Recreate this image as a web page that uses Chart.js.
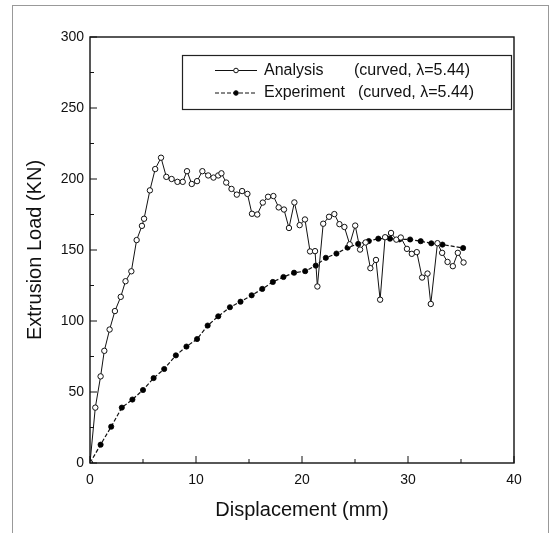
<!DOCTYPE html>
<html lang="en">
<head>
  <meta charset="UTF-8" />
  <title>Extrusion Load vs Displacement</title>
  <script src="https://cdn.jsdelivr.net/npm/chart.js"></script>
  <style>
    html, body { margin: 0; padding: 0; background: #fff; }
    #wrap { width: 555px; height: 533px; }
  </style>
</head>
<body>
  <div id="wrap"><canvas id="loadChart" width="555" height="533"></canvas></div>

  <script>
    // Analysis (open circles)
    const analysisX = [0, 0.5, 1.0, 1.35, 1.85, 2.35, 2.9, 3.35, 3.9, 4.4, 4.9, 5.1, 5.65, 6.15, 6.7,
      7.2, 7.7, 8.25, 8.75, 9.15, 9.6, 10.1, 10.6, 11.15, 11.65, 12.1, 12.4, 12.85, 13.35, 13.85,
      14.35, 14.85, 15.28, 15.78, 16.3, 16.8, 17.3, 17.8, 18.3, 18.77, 19.28, 19.78, 20.28, 20.76,
      21.23, 21.45, 22.0, 22.55, 23.05, 23.53, 24.0, 24.5, 25.02, 25.48, 26.0, 26.45, 26.98, 27.37,
      27.84, 28.4, 28.9, 29.32, 29.9, 30.36, 30.83, 31.33, 31.84, 32.15, 32.78, 33.22, 33.73, 34.23,
      34.7, 35.24];
    const analysisY = [0, 39, 61, 79, 94, 107, 117, 128, 135, 157, 167, 172, 192, 207, 215,
      201.5, 200, 198, 198, 205.5, 196.5, 198.5, 205.5, 202.5, 201, 202.5, 204, 197.5, 193, 189,
      191.5, 189.5, 175.5, 175, 183.4, 187.5, 188, 180, 178.5, 165.5, 183.5, 167.5, 171.5, 149,
      149.2, 124.3, 168.5, 173.4, 175.3, 168.2, 166.2, 154, 167.2, 150.3, 155.3, 137.2, 143, 115,
      159, 162, 157.3, 158.8, 150.8, 147.3, 148.5, 130.6, 133.4, 112, 154.8, 148, 141.6, 138.6,
      148, 141.2];

    // Experiment (filled circles)
    const experimentX = [0, 1.0, 2.0, 3.0, 4.0, 5.0, 6.0, 7.0, 8.1, 9.1, 10.1, 11.1, 12.1, 13.2,
      14.2, 15.25, 16.25, 17.25, 18.25, 19.25, 20.3, 21.3, 22.25, 23.25, 24.3, 25.3, 26.3, 27.2,
      28.3, 29.2, 30.2, 31.2, 32.2, 33.25, 35.2];
    const experimentY = [0, 12.9, 25.6, 39, 44.7, 51.4, 59.8, 66.2, 75.8, 82, 87.3, 96.8, 103.3, 109.7,
      113.6, 118.1, 122.6, 127.5, 131, 134, 135.1, 139, 144.5, 147.5, 151.7, 154.3, 156.3, 158,
      158, 157.5, 157.4, 156.2, 154.7, 153.8, 151.4];

    const legendNames = ['Analysis', 'Experiment'];
    const legendNotes = ['(curved, \u03bb=5.44)', '(curved, \u03bb=5.44)'];

    const FONT = "Arial, 'Liberation Sans', Helvetica, sans-serif";

    const toPoints = (xs, ys) => xs.map((x, i) => ({ x: x, y: ys[i] }));

    // box round the plot, inside tick marks, outer frame
    const framePlugin = {
      id: 'frame',
      afterDraw(chart) {
        const ctx = chart.ctx;
        const a = chart.chartArea;
        const xs = chart.scales.x, ys = chart.scales.y;
        ctx.save();
        ctx.strokeStyle = '#999';
        ctx.lineWidth = 1;
        ctx.strokeRect(12.5, 5.5, 536, 540);

        ctx.strokeStyle = '#111';
        ctx.lineWidth = 1.4;
        ctx.strokeRect(a.left, a.top, a.right - a.left, a.bottom - a.top);

        ctx.lineWidth = 1;
        ctx.beginPath();
        for (let v = 0; v <= 300; v += 25) {
          const py = ys.getPixelForValue(v);
          const len = v % 50 === 0 ? 7 : 4;
          ctx.moveTo(a.left, py);
          ctx.lineTo(a.left + len, py);
        }
        for (let v = 0; v <= 40; v += 5) {
          const px = xs.getPixelForValue(v);
          const len = v % 10 === 0 ? 7 : 4;
          ctx.moveTo(px, a.bottom);
          ctx.lineTo(px, a.bottom - len);
        }
        ctx.stroke();
        ctx.restore();
      }
    };

    // boxed legend in upper right
    const legendPlugin = {
      id: 'boxLegend',
      afterDraw(chart) {
        const ctx = chart.ctx;
        ctx.save();
        ctx.strokeStyle = '#222';
        ctx.lineWidth = 1.2;
        ctx.strokeRect(182.5, 55.5, 329, 54);

        const rows = [70.5, 93];
        const noteX = [354, 358];
        ctx.font = '16px ' + FONT;
        ctx.fillStyle = '#111';
        ctx.textBaseline = 'middle';
        rows.forEach((y, i) => {
          const ds = chart.data.datasets[i];
          ctx.strokeStyle = '#111';
          ctx.lineWidth = 1;
          ctx.setLineDash(ds.borderDash || []);
          ctx.beginPath();
          ctx.moveTo(215, y);
          ctx.lineTo(257, y);
          ctx.stroke();
          ctx.setLineDash([]);
          ctx.beginPath();
          ctx.arc(236, y, i === 0 ? 2.3 : 2.3, 0, Math.PI * 2);
          ctx.fillStyle = ds.pointBackgroundColor;
          ctx.fill();
          ctx.stroke();
          ctx.fillStyle = '#111';
          ctx.fillText(legendNames[i], 264, y);
          ctx.fillText(legendNotes[i], noteX[i], y);
        });
        ctx.restore();
      }
    };

    new Chart(document.getElementById('loadChart'), {
      type: 'scatter',
      data: {
        datasets: [
          {
            label: legendNames[0],
            data: toPoints(analysisX, analysisY),
            showLine: true,
            borderColor: '#111',
            borderWidth: 1,
            pointRadius: 2.7,
            pointBorderWidth: 1,
            pointBorderColor: '#111',
            pointBackgroundColor: '#fff'
          },
          {
            label: legendNames[1],
            data: toPoints(experimentX, experimentY),
            showLine: true,
            borderColor: '#111',
            borderWidth: 1.2,
            borderDash: [4, 2],
            pointRadius: 2.6,
            pointBorderWidth: 0.8,
            pointBorderColor: '#000',
            pointBackgroundColor: '#000'
          }
        ]
      },
      options: {
        responsive: false,
        animation: false,
        layout: { padding: { left: 0, right: 41, top: 37, bottom: 0 } },
        plugins: {
          legend: { display: false },
          tooltip: { enabled: false }
        },
        scales: {
          x: {
            type: 'linear',
            min: 0,
            max: 40,
            grid: { display: false, drawTicks: false },
            border: { display: false },
            ticks: { stepSize: 10, padding: 9, color: '#111', font: { size: 14, family: FONT } },
            title: {
              display: true,
              text: 'Displacement (mm)',
              color: '#111',
              font: { size: 20, family: FONT },
              padding: { top: 0, bottom: 11 }
            },
            afterFit(s) { s.height = 70; }
          },
          y: {
            min: 0,
            max: 300,
            grid: { display: false, drawTicks: false },
            border: { display: false },
            ticks: { stepSize: 50, padding: 6, color: '#111', font: { size: 14, family: FONT } },
            title: {
              display: true,
              text: 'Extrusion Load (KN)',
              color: '#111',
              font: { size: 20, family: FONT },
              padding: { top: 23, bottom: 0 }
            },
            afterFit(s) { s.width = 90; }
          }
        }
      },
      plugins: [framePlugin, legendPlugin]
    });
  </script>
</body>
</html>
